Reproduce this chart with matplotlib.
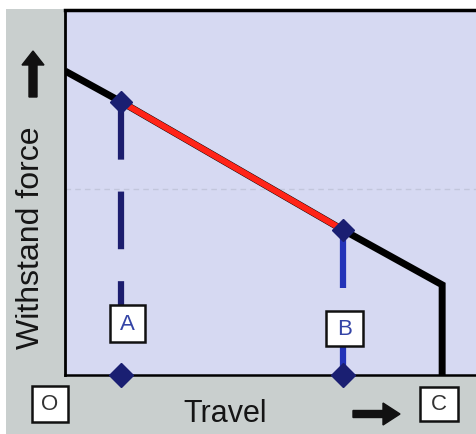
import matplotlib
matplotlib.use("Agg")
import matplotlib.pyplot as plt
from matplotlib.patches import Rectangle, FancyArrow
from matplotlib.transforms import Affine2D

plt.rcParams['font.family'] = ['Liberation Sans', 'DejaVu Sans']
plt.rcParams['lines.scale_dashes'] = False

# Data (schematic units: travel 0..100 = O..C, force 0..100 = axis height)
travel = [0, 15, 74, 100.3, 100.3]
force = [83.3, 74.8, 39.7, 24.7, 0]
point_labels = ["A", "B"]
point_travel = [15, 74]
point_force = [74.8, 39.7]
x_label = "Travel"
y_label = "Withstand force"
origin_label = "O"
end_label = "C"

W, H = 476, 435
fig = plt.figure(figsize=(W / 100, H / 100), dpi=100)
fig.patch.set_facecolor('white')
T = Affine2D().scale(1 / W, -1 / H).translate(0, 1) + fig.transFigure

# gray scanned background
fig.add_artist(Rectangle((6, 10), W - 6, H - 10, transform=T,
                         facecolor='#c9cfce', edgecolor='none', zorder=0))

ax = fig.add_axes([65 / W, 1 - 376 / H, (W - 65) / W, (376 - 11) / H])
ax.set_facecolor('#d6d9f2')
ax.set_xlim(0, 109.3)
ax.set_ylim(0, 100)
ax.set_xticks([])
ax.set_yticks([])
ax.spines['right'].set_visible(False)
ax.spines['left'].set_linewidth(2)
ax.spines['bottom'].set_linewidth(1.8)
ax.spines['top'].set_linewidth(2.5)
for s in ax.spines.values():
    s.set_color('black')

# faint scan line
ax.axhline(51, color='#c2c6dc', lw=1, dashes=(4, 3), zorder=1)

# main curve
ax.plot(travel, force, color='black', lw=5, solid_joinstyle='miter',
        solid_capstyle='butt', zorder=3)
ax.plot(point_travel, point_force, color='#ff2418', lw=4.4,
        solid_capstyle='butt', zorder=4)

# A dashed drop line
ax.plot([point_travel[0], point_travel[0]], [point_force[0], 19.2],
        color='#1c1d6e', lw=4.5, dashes=(41.5, 23), zorder=2)
# B drop line (broken by label box)
ax.plot([point_travel[1], point_travel[1]], [point_force[1], 23.8],
        color='#2233b8', lw=4.5, solid_capstyle='butt', zorder=2)
ax.plot([point_travel[1], point_travel[1]], [7.9, 0],
        color='#2233b8', lw=4.5, solid_capstyle='butt', zorder=2)

# markers
ax.plot(point_travel, point_force, linestyle='none', marker='D', ms=11.5,
        color='#1a1f72', zorder=6, clip_on=False)
ax.plot(point_travel, [0, 0], linestyle='none', marker='D', ms=12,
        color='#1a1f72', zorder=6, clip_on=False)

# label boxes (pixel coordinates)
boxes = [(110, 306, 145, 343, point_labels[0], '#3444a6'),
         (326, 312, 363, 347, point_labels[1], '#3444a6'),
         (32, 387, 68, 423, origin_label, '#333333'),
         (420, 388, 458, 422, end_label, '#333333')]
for x0, y0, x1, y1, lab, col in boxes:
    fig.add_artist(Rectangle((x0, y0), x1 - x0, y1 - y0, transform=T,
                             facecolor='white', edgecolor='#111111',
                             lw=1.8, zorder=10))
    fig.text((x0 + x1) / 2 / W, 1 - (y0 + y1) / 2 / H, lab, color=col,
             fontsize=16, ha='center', va='center', zorder=11)

# axis titles
fig.text(225 / W, 1 - 414 / H, x_label, fontsize=22, color='#151515',
         ha='center', va='center')
fig.text(31 / W, 1 - 238 / H, y_label, fontsize=23, color='#151515',
         ha='center', va='center', rotation=90)

# arrows
fig.add_artist(FancyArrow(33, 98, 0, -46, width=8, head_width=22,
                          head_length=14, length_includes_head=True,
                          transform=T, color='#111111', zorder=5))
fig.add_artist(FancyArrow(353, 415, 47, 0, width=7, head_width=22,
                          head_length=17, length_includes_head=True,
                          transform=T, color='#111111', zorder=5))

fig.savefig('out.png', dpi=100)
